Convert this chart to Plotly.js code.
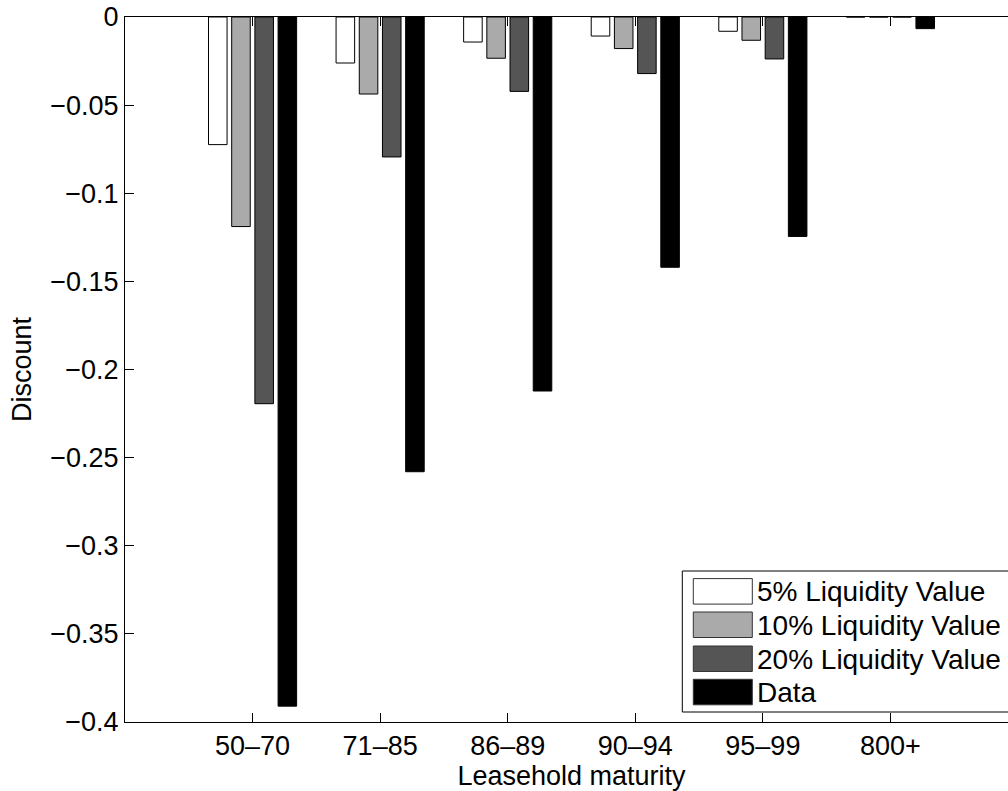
<!DOCTYPE html>
<html>
<head>
<meta charset="utf-8">
<script src="https://cdn.plot.ly/plotly-3.0.1.min.js"></script>
<style>
html,body{margin:0;padding:0;overflow:hidden;background:#fff;}
#chart{width:1040px;height:791px;}
</style>
</head>
<body>
<div id="chart"></div>
<script>
// ---- data ----
var categories = ["50\u201370", "71\u201385", "86\u201389", "90\u201394", "95\u201399", "800+"];
var seriesNames = ["5% Liquidity Value", "10% Liquidity Value", "20% Liquidity Value", "Data"];
var liq5  = [-0.0724, -0.0261, -0.0142, -0.0108, -0.0081, 0];
var liq10 = [-0.1189, -0.0437, -0.0234, -0.0179, -0.0132, 0];
var liq20 = [-0.2194, -0.0794, -0.0422, -0.0321, -0.0238, 0];
var dataVals = [-0.391, -0.258, -0.2122, -0.142, -0.1245, -0.0066];
var yTicks = [-0.4, -0.35, -0.3, -0.25, -0.2, -0.15, -0.1, -0.05, 0];

var seriesValues = [liq5, liq10, liq20, dataVals];
var fills = ["#ffffff", "#aaaaaa", "#555555", "#000000"];

var FONT = "Liberation Sans, Arial, Helvetica, sans-serif";

var traces = seriesValues.map(function (vals, i) {
  return {
    type: "bar",
    x: categories,
    y: vals,
    name: seriesNames[i],
    marker: { color: fills[i], line: { color: "#000000", width: 1 } },
    showlegend: false,
    hoverinfo: "x+y+name"
  };
});

// plot area geometry (pixels)
var L = 125, T = 16.7, PW = 893, PH = 705;
function px(x) { return (x - L) / PW; }
function py(y) { return (T + PH - y) / PH; }

// custom MATLAB-style legend (box runs past the right edge of the window)
var bx0 = px(682.3), bx1 = px(1100), by0 = py(711.7), by1 = py(570.7);
var shapes = [
  { type: "path", xref: "paper", yref: "paper",
    path: "M" + bx1 + "," + by1 + "L" + bx0 + "," + by1 + "L" + bx0 + "," + by0 + "L" + bx1 + "," + by0,
    line: { color: "#000000", width: 1 }, fillcolor: "rgba(0,0,0,0)", layer: "above" }
];
var annotations = [];
var rowTop = [578.3, 611.7, 645.7, 679];
seriesNames.forEach(function (nm, i) {
  shapes.push({
    type: "rect", xref: "paper", yref: "paper",
    x0: px(693.3), x1: px(752.3), y0: py(rowTop[i] + 25.5), y1: py(rowTop[i]),
    line: { color: "#333333", width: 1 }, fillcolor: fills[i], layer: "above"
  });
  annotations.push({
    xref: "paper", yref: "paper", x: px(755), y: py(rowTop[i] + 13),
    xanchor: "left", yanchor: "middle", showarrow: false,
    text: nm, font: { family: FONT, size: 28, color: "#000000" }
  });
});

var layout = {
  width: 1040, height: 791,
  margin: { l: L, t: T, r: 1040 - L - PW, b: 791 - T - PH, pad: 0 },
  paper_bgcolor: "#ffffff", plot_bgcolor: "#ffffff",
  font: { family: FONT, size: 27, color: "#000000" },
  barmode: "group",
  bargap: 0.2727,
  bargroupgap: 0.2,
  showlegend: false,
  xaxis: {
    type: "category",
    range: [-1, 6],
    showgrid: false, zeroline: false,
    showline: true, linecolor: "#000000", linewidth: 1,
    mirror: "ticks",
    ticks: "inside", ticklen: 9, tickwidth: 1, tickcolor: "#000000",
    tickfont: { family: FONT, size: 27, color: "#000000" },
    title: { text: "Leasehold maturity", font: { family: FONT, size: 27 }, standoff: 2 },
    fixedrange: true
  },
  yaxis: {
    range: [-0.4, 0],
    tickvals: yTicks,
    ticktext: yTicks.map(function (v) { return v === 0 ? "0" : "\u2212" + String(Math.abs(v)); }),
    showgrid: false, zeroline: false,
    showline: true, linecolor: "#000000", linewidth: 1,
    mirror: "ticks",
    ticks: "inside", ticklen: 9, tickwidth: 1, tickcolor: "#000000",
    tickfont: { family: FONT, size: 27, color: "#000000" },
    title: { text: "Discount", font: { family: FONT, size: 27 }, standoff: 10 },
    fixedrange: true
  },
  shapes: shapes,
  annotations: annotations
};

Plotly.newPlot("chart", traces, layout, { displayModeBar: false, staticPlot: true });
</script>
</body>
</html>
